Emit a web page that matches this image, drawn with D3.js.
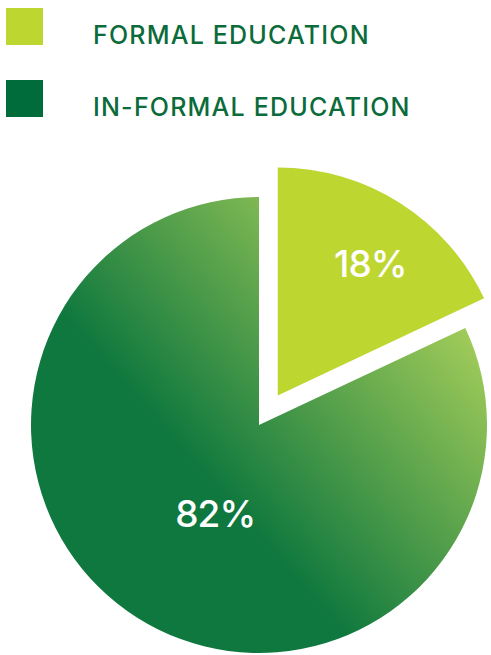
<!DOCTYPE html>
<html>
<head>
<meta charset="utf-8">
<script src="https://cdn.jsdelivr.net/npm/d3@7"></script>
<style>
  html, body { margin: 0; padding: 0; background: #fff; }
  svg { display: block; }
</style>
</head>
<body>
<div id="chart"></div>
<script>
// Data
const categories = ["FORMAL EDUCATION", "IN-FORMAL EDUCATION"];
const values = [18, 82];
const labels = ["18%", "82%"];

const width = 491;
const height = 655;
const radius = 228;
const cx = 259, cy = 425;
const explode = 35;

const svg = d3.select("#chart").append("svg")
  .attr("width", width)
  .attr("height", height)
  .style("font-family", "Inter, 'Noto Sans', sans-serif");

// Gradient for the big slice (light top-right -> dark lower-left)
const defs = svg.append("defs");
const grad = defs.append("linearGradient")
  .attr("id", "bigGrad")
  .attr("gradientUnits", "userSpaceOnUse")
  .attr("x1", 177).attr("y1", -156)
  .attr("x2", -56).attr("y2", 49);
grad.append("stop").attr("offset", "0%").attr("stop-color", "#a9d05b");
grad.append("stop").attr("offset", "100%").attr("stop-color", "#0f783e");

const fills = ["#bed630", "url(#bigGrad)"];
const legendColors = ["#bed630", "#006b3b"];

// Legend
const legend = svg.append("g")
  .selectAll("g")
  .data(categories)
  .join("g")
    .attr("transform", (d, i) => `translate(6,${8 + i * 72})`);

legend.append("rect")
  .attr("width", 37)
  .attr("height", 37)
  .attr("fill", (d, i) => legendColors[i]);

legend.append("text")
  .attr("x", 87)
  .attr("y", 36)
  .attr("fill", "#0b6b3a")
  .attr("font-size", 25)
  .attr("font-weight", 500)
  .attr("letter-spacing", 1.2)
  .text(d => d);

// Pie
const pie = d3.pie().sort(null).startAngle(0).endAngle(2 * Math.PI);
const arcs = pie(values);

const arc = d3.arc().innerRadius(0).outerRadius(radius);

const g = svg.append("g").attr("transform", `translate(${cx},${cy})`);

function offset(d, i) {
  if (i !== 0) return [0, 0];
  const a = (d.startAngle + d.endAngle) / 2;
  return [Math.sin(a) * explode, -Math.cos(a) * explode];
}

g.selectAll("path")
  .data(arcs)
  .join("path")
    .attr("d", arc)
    .attr("fill", (d, i) => fills[i])
    .attr("transform", (d, i) => `translate(${offset(d, i)})`);

// Labels
const labelRadius = [0.7, 0.44];
const labelShift = [[7, 3], [10, 4]];
g.selectAll("text")
  .data(arcs)
  .join("text")
    .attr("transform", (d, i) => {
      const a = (d.startAngle + d.endAngle) / 2;
      const r = radius * labelRadius[i];
      const [ox, oy] = offset(d, i);
      return `translate(${ox + Math.sin(a) * r + labelShift[i][0]},${oy - Math.cos(a) * r + labelShift[i][1]})`;
    })
    .attr("text-anchor", "middle")
    .attr("dy", "0.36em")
    .attr("fill", "#fff")
    .attr("font-size", 37)
    .attr("font-weight", 500)
    .attr("letter-spacing", -1)
    .text((d, i) => labels[i]);
</script>
</body>
</html>
